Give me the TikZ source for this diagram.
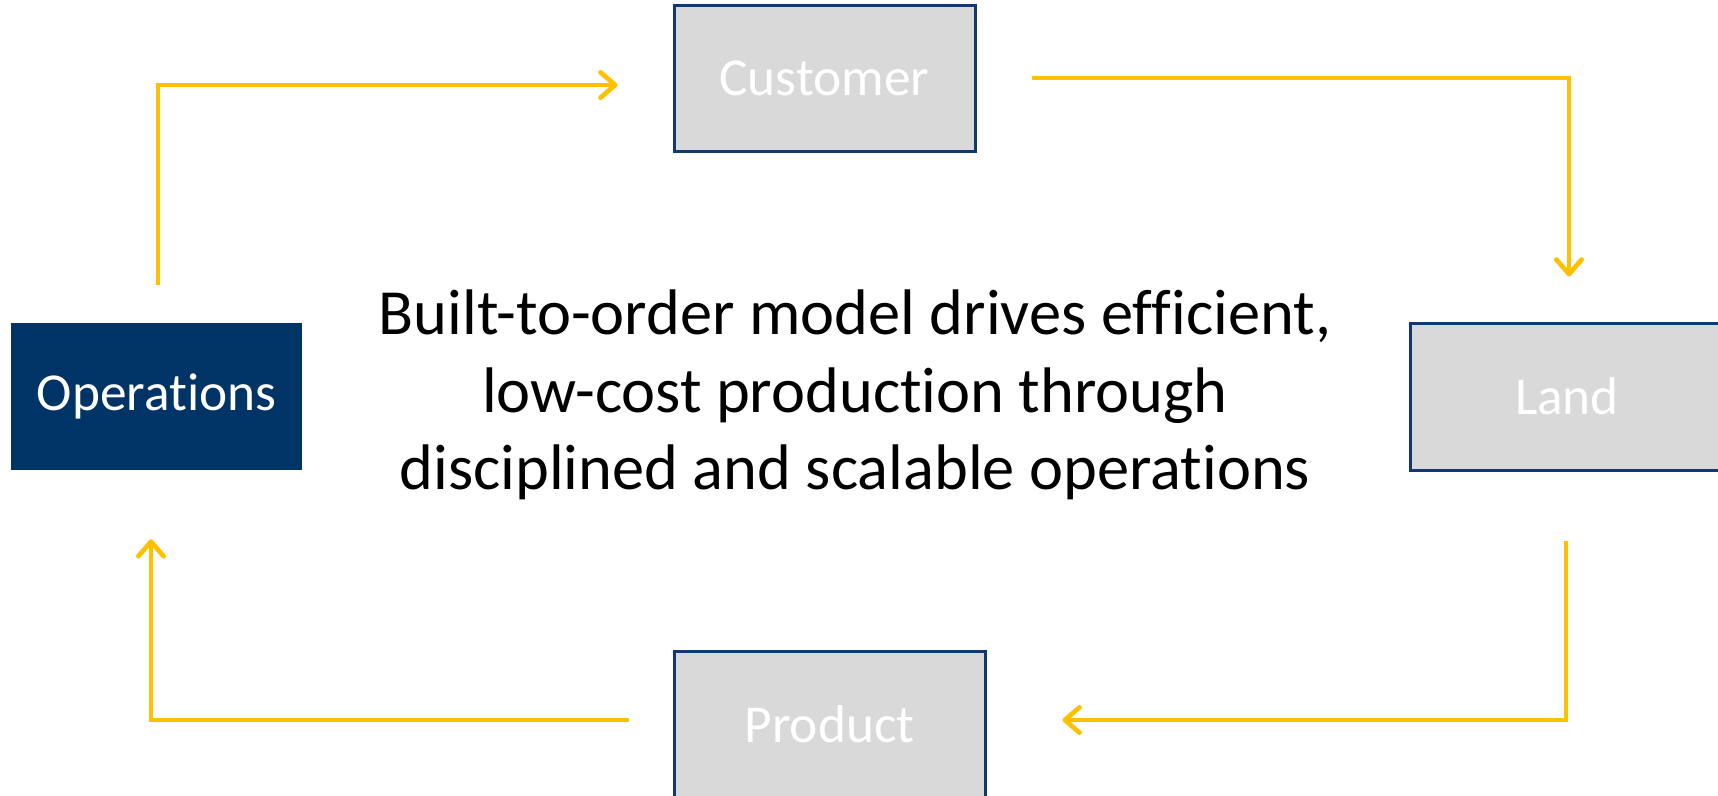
\documentclass[tikz,border=0pt]{standalone}
\usepackage{fontspec}
\setmainfont{Carlito}[Ligatures=NoCommon]
\usetikzlibrary{arrows.meta,calc}
\tikzset{
	stage/.style={
		draw={rgb, 255:red, 16; green, 58; blue, 110},
		line width=2.25pt,
		fill={rgb, 255:red, 217; green, 217; blue, 217},
		text=white,
		font=\fontsize{40}{48}\selectfont,
		minimum height=109.5pt},
	hub/.style={
		fill={rgb, 255:red, 0; green, 51; blue, 102},
		text=white,
		font=\fontsize{40}{48}\selectfont,
		minimum height=110.25pt},
	flow/.style={
		draw={rgb, 255:red, 255; green, 192; blue, 0},
		line width=3.5pt,
		-{Straight Barb[length=11pt,width=19pt,round]}}
}
\begin{document}
\begin{tikzpicture}[x=0.75pt,y=0.75pt,yscale=-1,xscale=1]
\useasboundingbox (0,0) rectangle (1718,796);

% the four boxes round the cycle
\node (cust) at (824.5,78) [stage, minimum width=225.75pt] {Customer};
\node (ops)  at (156.5,396.5) [hub, minimum width=218.25pt] {Operations};
\node (land) at (1567,396.5) [stage, minimum width=235.5pt, minimum height=110.25pt] {Land};
\node (prod) at (829.5,724) [stage, minimum width=233.25pt] {Product};

% statement in the middle
\node (claim) at (855,395) [align=center, font=\fontsize{48.3}{58}\selectfont]
	{Built-to-order model drives efficient,\\ low-cost production through\\ disciplined and scalable operations};

% connectors
\draw [flow] ($(ops.north)+(1.5,-38)$) |- ($(cust.west)+(-55,7)$);
\draw [flow] ($(cust.east)+(55,0)$) -| ($(land.north)+(2,-45)$);
\draw [flow] ($(land.south)+(-1,69)$) |- ($(prod.east)+(76,-4)$);
\draw [flow] ($(prod.west)+(-44,-4)$) -| ($(ops.south)+(-5.5,69)$);

\end{tikzpicture}
\end{document}
